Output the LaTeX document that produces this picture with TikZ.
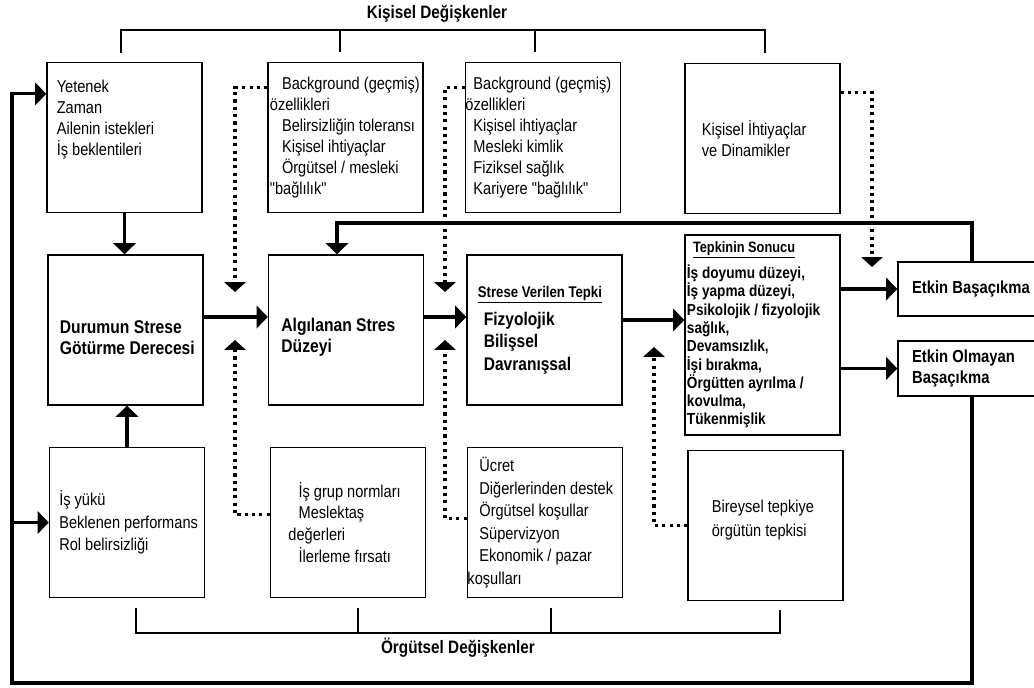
\documentclass[tikz,border=0pt]{standalone}
\usepackage{fontspec}
\setmainfont{Liberation Sans}
\newfontfamily\darfont{Liberation Sans}[FakeStretch=0.85]
\usetikzlibrary{arrows.meta, calc}

\tikzset{
  kutu/.style={draw, line width=1pt, minimum width=3.875cm, minimum height=3.75cm,
    text width=3.875cm, inner xsep=0pt, inner ysep=0pt, align=flush left,
    font=\darfont\fontsize{12.2}{15}\selectfont},
  kalinkutu/.style={kutu, font=\darfont\bfseries\fontsize{13.1}{15}\selectfont},
  kalinok/.style={line width=2.2pt, -{Triangle[length=8pt,width=16pt]}},
  noktaliok/.style={line width=2.2pt, dash pattern=on 2.2pt off 3pt, -{Triangle[length=7pt,width=15pt]}},
  ayrac/.style={line width=0.9pt},
  baslik/.style={font=\darfont\bfseries\fontsize{12.8}{15}\selectfont}
}

\begin{document}
\begin{tikzpicture}[x=0.025cm, y=-0.025cm]
\useasboundingbox (0,0) rectangle (1034,688);

\node[baslik] (kisisel) at (437,14) {Kişisel Değişkenler};
\node[baslik] (orgutsel) at (458,648) {Örgütsel Değişkenler};

\draw[ayrac] (121,53) |- (765,30) -- (765,53);
\draw[ayrac] (340,30) -- (340,52);
\draw[ayrac] (535,30) -- (535,52);
\draw[ayrac] (136,608) |- (780,633) -- (780,610);
\draw[ayrac] (358,633) -- (358,608);
\draw[ayrac] (551,633) -- (551,608);

\node[kutu] (yetenek) at (124.5,137.5) {
  \hspace*{7pt}Yetenek\\
  \hspace*{7pt}Zaman\\
  \hspace*{7pt}Ailenin istekleri\\
  \hspace*{7pt}İş beklentileri\\[12.6pt]\mbox{}};
\node[kutu] (gecmis1) at (345.5,137.5) {
  \hspace*{10pt}Background (geçmiş)\\
  \hspace*{1.4pt}özellikleri\\
  \hspace*{10pt}Belirsizliğin toleransı\\
  \hspace*{10pt}Kişisel ihtiyaçlar\\
  \hspace*{10pt}Örgütsel / mesleki\\
  \hspace*{1.4pt}"bağlılık"};
\node[kutu] (gecmis2) at (543,137.5) {
  \hspace*{5.7pt}Background (geçmiş)\\
  özellikleri\\
  \hspace*{5.7pt}Kişisel ihtiyaçlar\\
  \hspace*{5.7pt}Mesleki kimlik\\
  \hspace*{5.7pt}Fiziksel sağlık\\
  \hspace*{5.7pt}Kariyere "bağlılık"};
\node[kutu] (dinamik) at (762.5,138.5) {
  \hspace*{12pt}Kişisel İhtiyaçlar\\
  \hspace*{12pt}ve Dinamikler};

\node[kalinkutu] (durum) at (125.5,330) {
  \mbox{}\\[5pt]
  \hspace*{8.5pt}Durumun Strese\\
  \hspace*{8.5pt}Götürme Derecesi};
\node[kalinkutu] (algi) at (346,330) {
  \mbox{}\\[5pt]
  \hspace*{9.2pt}Algılanan Stres\\
  \hspace*{9.2pt}Düzeyi};
\node[kalinkutu, font=\darfont\bfseries\fontsize{13}{16}\selectfont] (tepki) at (544.5,330) {
  \hspace*{7.8pt}{\fontsize{11}{13}\selectfont\underline{Strese Verilen Tepki}}\\[4pt]
  \hspace*{12pt}Fizyolojik\\
  \hspace*{12pt}Bilişsel\\
  \hspace*{12pt}Davranışsal};
\node[kalinkutu, minimum height=5cm, font=\darfont\bfseries\fontsize{11.4}{13}\selectfont] (sonuc) at (762.5,335) {
  \hspace*{5.7pt}{\fontsize{10.7}{13}\selectfont\underline{Tepkinin Sonucu}}\\[3.5pt]
  \hspace*{1.4pt}İş doyumu düzeyi,\\
  \hspace*{1.4pt}İş yapma düzeyi,\\
  \hspace*{1.4pt}Psikolojik / fizyolojik\\
  \hspace*{1.4pt}sağlık,\\
  \hspace*{1.4pt}Devamsızlık,\\
  \hspace*{1.4pt}İşi bırakma,\\
  \hspace*{1.4pt}Örgütten ayrılma /\\
  \hspace*{1.4pt}kovulma,\\
  \hspace*{1.4pt}Tükenmişlik};
\node[kalinkutu, minimum width=3.55cm, text width=3.55cm, minimum height=1.35cm,
  font=\darfont\bfseries\fontsize{12.4}{15}\selectfont] (etkin) at (969,289) {
  \hspace*{10pt}Etkin Başaçıkma};
\node[kalinkutu, minimum width=3.55cm, text width=3.55cm, minimum height=1.375cm,
  font=\darfont\bfseries\fontsize{12.4}{15}\selectfont] (etkinsiz) at (969,368.5) {
  \hspace*{10pt}Etkin Olmayan\\
  \hspace*{10pt}Başaçıkma};

\node[kutu, font=\darfont\fontsize{12.2}{15.8}\selectfont] (isyuku) at (127,522.5) {
  \hspace*{7pt}İş yükü\\
  \hspace*{7pt}Beklenen performans\\
  \hspace*{7pt}Rol belirsizliği};
\node[kutu, font=\darfont\fontsize{12.2}{15.5}\selectfont] (grup) at (348,522.5) {
  \hspace*{20pt}İş grup normları\\
  \hspace*{20pt}Meslektaş\\
  \hspace*{12.8pt}değerleri\\
  \hspace*{20pt}İlerleme fırsatı};
\node[kutu, font=\darfont\fontsize{12.2}{16}\selectfont] (ucret) at (545,522.5) {
  \hspace*{8.5pt}Ücret\\
  \hspace*{8.5pt}Diğerlerinden destek\\
  \hspace*{8.5pt}Örgütsel koşullar\\
  \hspace*{8.5pt}Süpervizyon\\
  \hspace*{8.5pt}Ekonomik / pazar\\
  koşulları};
\node[kutu, font=\darfont\fontsize{12.2}{17}\selectfont] (bireysel) at (765.5,525.5) {
  \hspace*{17pt}Bireysel tepkiye\\
  \hspace*{17pt}örgütün tepkisi\\[-6.4pt]\mbox{}};

\draw[kalinok] (yetenek.south) -- (yetenek.south |- durum.north);
\draw[kalinok] (isyuku.north) -- (isyuku.north |- durum.south);
\draw[kalinok] ([yshift=0.325cm]durum.east) -- ([yshift=0.325cm]algi.west);
\draw[kalinok] ([yshift=0.325cm]algi.east) -- ([yshift=0.325cm]tepki.west);
\coordinate (ts) at ([yshift=0.25cm]tepki.east);
\draw[kalinok] (ts) -- (ts -| sonuc.west);
\draw[kalinok] (sonuc.east |- etkin.west) -- (etkin.west);
\draw[kalinok] (sonuc.east |- etkinsiz.west) -- (etkinsiz.west);

\coordinate (donus1) at (972,223);
\draw[kalinok] (etkin.north -| donus1) -- (donus1) -| ([xshift=-0.225cm]algi.north);
\coordinate (donus2) at (972,683);
\coordinate (donus3) at (12,683);
\draw[kalinok] (etkinsiz.south -| donus2) -- (donus2) -- (donus3) |- ([yshift=1.09cm]yetenek.west);
\draw[kalinok] (donus3 |- isyuku.west) -- (isyuku.west);

\coordinate (ok1) at (235,292);
\coordinate (ok2) at (445,292);
\coordinate (ok3) at (872,267);
\coordinate (ok4) at (235,340);
\coordinate (ok5) at (445,340);
\coordinate (ok6) at (654,347);
\draw[noktaliok] ([yshift=1.24cm]gecmis1.west) -| (ok1);
\draw[noktaliok] ([yshift=1.24cm]gecmis2.west) -| (ok2);
\draw[noktaliok] ([yshift=1.15cm]dinamik.east) -| (ok3);
\draw[noktaliok] ([yshift=0.19cm]grup.west) -| (ok4);
\draw[noktaliok] ([yshift=0.11cm]ucret.west) -| (ok5);
\draw[noktaliok] (bireysel.west) -| (ok6);
\end{tikzpicture}
\end{document}
